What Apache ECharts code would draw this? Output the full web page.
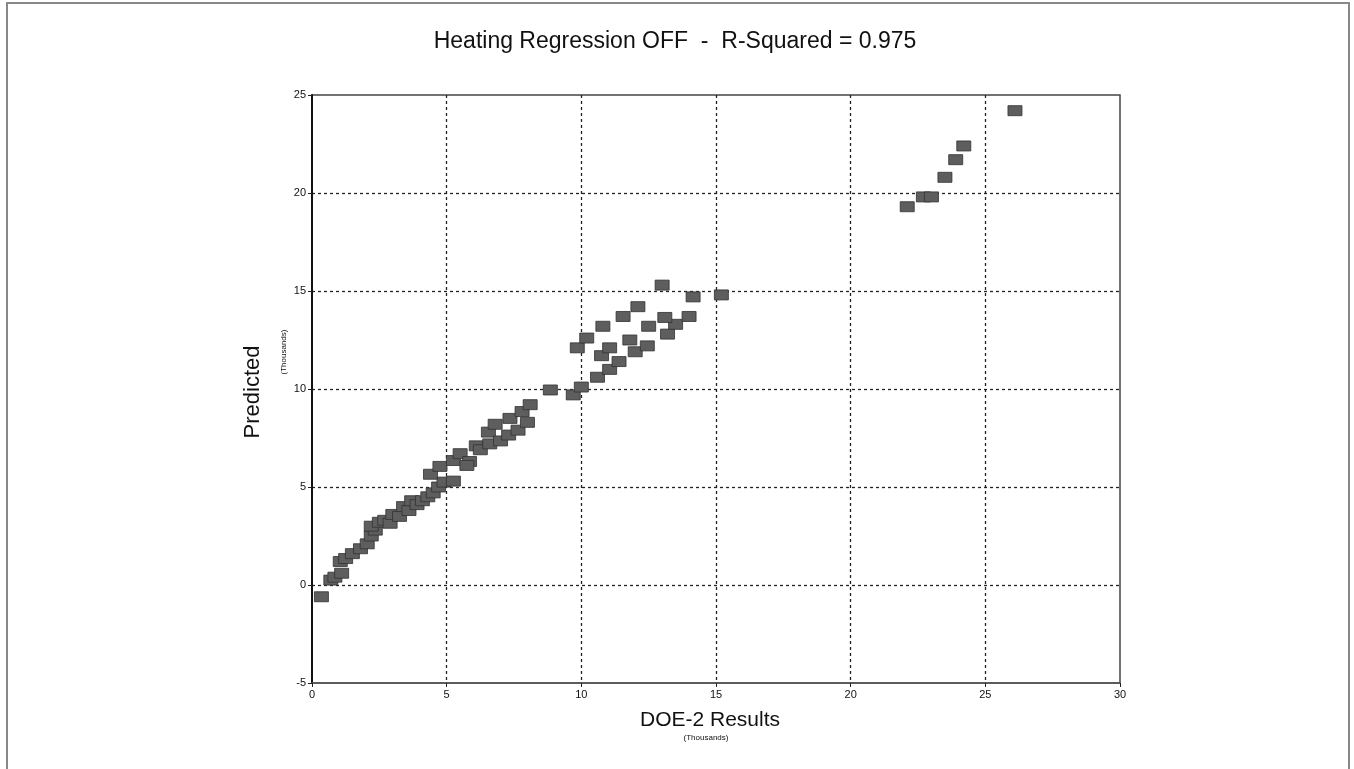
<!DOCTYPE html>
<html>
<head>
<meta charset="utf-8">
<script src="https://cdn.jsdelivr.net/npm/echarts@6/dist/echarts.min.js"></script>
<style>
  html, body { margin: 0; padding: 0; background: #fff; }
  #chart { width: 1354px; height: 769px; }
</style>
</head>
<body>
<div id="chart"></div>
<script>
// DOE-2 results vs regression prediction (thousands)
var doeX = [
    0.35, 0.7, 0.85, 1.1, 1.05, 1.25, 1.5, 1.8, 2.05, 2.2, 2.35, 2.2, 2.5, 2.7, 2.9,
    3.0, 3.25, 3.4, 3.6, 3.7, 3.9, 4.1, 4.3, 4.5, 4.7, 4.9, 5.25,
    4.4, 4.75, 5.25, 5.5, 5.85, 5.75, 6.1, 6.25, 6.6, 6.55, 6.8, 7.0, 7.3, 7.65,
    7.35, 7.8, 8.0, 8.1, 8.85, 9.7, 10.0,
    10.6, 11.05, 11.4, 12.0, 10.75, 11.05, 12.45, 11.8, 9.85, 10.2, 13.2, 12.5,
    13.5, 13.1, 10.8, 14.0, 11.55, 12.1, 14.15, 13.0, 15.2,
    22.1, 22.7, 23.0, 23.5, 23.9, 24.2, 26.1
];
var predY = [
    -0.6, 0.25, 0.4, 0.6, 1.2, 1.35, 1.6, 1.85, 2.1, 2.5, 2.8, 3.0, 3.2, 3.3, 3.15,
    3.6, 3.5, 4.0, 3.8, 4.3, 4.1, 4.3, 4.5, 4.7, 5.0, 5.25, 5.3,
    5.65, 6.05, 6.35, 6.7, 6.3, 6.1, 7.1, 6.9, 7.2, 7.8, 8.2, 7.35, 7.65, 7.9,
    8.5, 8.85, 8.3, 9.2, 9.95, 9.7, 10.1,
    10.6, 11.0, 11.4, 11.9, 11.7, 12.1, 12.2, 12.5, 12.1, 12.6, 12.8, 13.2,
    13.3, 13.65, 13.2, 13.7, 13.7, 14.2, 14.7, 15.3, 14.8,
    19.3, 19.8, 19.8, 20.8, 21.7, 22.4, 24.2
];
var xTicks = [0, 5, 10, 15, 20, 25, 30];
var yTicks = [-5, 0, 5, 10, 15, 20, 25];

var points = [];
for (var i = 0; i < doeX.length; i++) {
    points.push([doeX[i], predY[i]]);
}

var font = "'Liberation Sans Narrow', 'Liberation Sans', Arial, sans-serif";
var chart = echarts.init(document.getElementById('chart'));

var gridLine = {
    show: true,
    showMinLine: false,
    showMaxLine: false,
    lineStyle: { color: '#222', type: [3, 3], width: 1.3 }
};

chart.setOption({
    backgroundColor: '#fff',
    animation: false,
    grid: {
        left: 312, right: 234, top: 95, bottom: 86,
        show: true, borderColor: '#444', borderWidth: 1.5
    },
    xAxis: {
        type: 'value',
        min: xTicks[0], max: xTicks[xTicks.length - 1], interval: 5,
        axisLine: { show: true, onZero: false, lineStyle: { color: '#555', width: 1.5 } },
        axisTick: { show: true, length: 4, lineStyle: { color: '#222' } },
        axisLabel: { color: '#111', fontSize: 11, fontFamily: font, margin: 6 },
        splitLine: gridLine
    },
    yAxis: {
        type: 'value',
        min: yTicks[0], max: yTicks[yTicks.length - 1], interval: 5,
        axisLine: { show: true, onZero: false, lineStyle: { color: '#111', width: 2 } },
        axisTick: { show: true, length: 4, lineStyle: { color: '#222' } },
        axisLabel: { color: '#111', fontSize: 11, fontFamily: font, margin: 6 },
        splitLine: gridLine
    },
    graphic: [
        {
            type: 'rect', silent: true,
            shape: { x: 7, y: 3, width: 1342, height: 780 },
            style: { fill: 'none', stroke: '#888', lineWidth: 2 }
        },
        {
            type: 'text', x: 675, y: 42,
            style: {
                text: 'Heating Regression OFF  -  R-Squared = 0.975', font: '23px ' + font,
                fill: '#111', align: 'center', verticalAlign: 'middle'
            }
        },
        {
            type: 'text', x: 710, y: 710,
            style: { text: 'DOE-2 Results', font: '21px ' + font, fill: '#111', align: 'center' }
        },
        {
            type: 'text', x: 706, y: 734,
            style: { text: '(Thousands)', font: '8px ' + font, fill: '#111', align: 'center' }
        },
        {
            type: 'text', x: 253, y: 392, rotation: Math.PI / 2,
            style: { text: 'Predicted', font: '22px ' + font, fill: '#111', align: 'center', verticalAlign: 'middle' }
        },
        {
            type: 'text', x: 284, y: 352, rotation: Math.PI / 2,
            style: { text: '(Thousands)', font: '8px ' + font, fill: '#111', align: 'center', verticalAlign: 'middle' }
        }
    ],
    series: [{
        type: 'scatter',
        data: points,
        symbol: 'rect',
        symbolSize: [14, 10],
        itemStyle: { color: '#5e5e5e', borderColor: '#333', borderWidth: 0.8, opacity: 1 }
    }]
});
</script>
</body>
</html>
